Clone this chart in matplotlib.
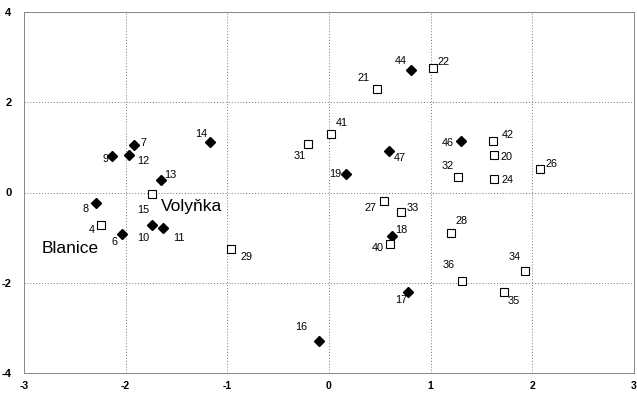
import matplotlib
matplotlib.use("Agg")
import matplotlib.pyplot as plt

plt.rcParams['font.family'] = ['Liberation Sans', 'DejaVu Sans']

# filled diamonds
d_ids = ["7", "12", "9", "14", "13", "44", "47", "19", "46", "8", "6", "10", "11", "16", "18", "17"]
d_x = [-1.92, -1.97, -2.13, -1.17, -1.65, 0.81, 0.59, 0.17, 1.30, -2.29, -2.04, -1.74, -1.63, -0.10, 0.62, 0.78]
d_y = [1.06, 0.83, 0.80, 1.11, 0.27, 2.71, 0.91, 0.41, 1.14, -0.24, -0.91, -0.72, -0.79, -3.29, -0.97, -2.21]

# open squares
s_ids = ["31", "22", "21", "41", "42", "20", "32", "24", "26", "4", "15", "29", "27", "33", "40", "28", "34", "36", "35"]
s_x = [-0.21, 1.02, 0.47, 0.02, 1.61, 1.62, 1.27, 1.62, 2.08, -2.24, -1.74, -0.96, 0.54, 0.71, 0.60, 1.20, 1.93, 1.31, 1.72]
s_y = [1.08, 2.75, 2.29, 1.30, 1.14, 0.83, 0.34, 0.30, 0.51, -0.71, -0.04, -1.26, -0.19, -0.44, -1.15, -0.89, -1.73, -1.97, -2.21]

group_names = ["Blanice", "Volyňka"]
group_x = [-2.55, -1.35]
group_y = [-1.25, -0.30]

x_ticks = [-3, -2, -1, 0, 1, 2, 3]
y_ticks = [-4, -2, 0, 2, 4]

# label offsets in pixels (dx, dy)
offsets = {
    "7": (10, 2), "12": (15, -6), "9": (-7, -3), "14": (-9, 8), "13": (9, 5),
    "31": (-8, -12), "44": (-11, 9), "22": (11, 6), "21": (-13, 11), "41": (11, 11),
    "47": (11, -7), "19": (-11, 0), "46": (-13, -2), "42": (15, 6), "20": (13, -2),
    "32": (-10, 11), "24": (14, -1), "26": (11, 5), "8": (-11, -6), "4": (-10, -5),
    "6": (-7, -8), "10": (-9, -13), "11": (16, -10), "15": (-9, -16), "29": (15, -8),
    "16": (-18, 14), "27": (-13, -7), "33": (12, 4), "18": (9, 6), "40": (-12, -4),
    "28": (11, 12), "34": (-11, 14), "36": (-14, 16), "35": (10, -9), "17": (-7, -8),
}

fig = plt.figure(figsize=(6.37, 3.94), dpi=100)
ax = fig.add_axes([24 / 637, 1 - 373 / 394, 610 / 637, 361 / 394])
ax.set_xlim(-3, 3)
ax.set_ylim(-4, 4)

for v in [-2, -1, 0, 1, 2]:
    ax.axvline(v, color='#777777', lw=0.7, ls=(0, (1, 2)), zorder=0)
for v in [-2, 0, 2]:
    ax.axhline(v, color='#777777', lw=0.7, ls=(0, (1, 2)), zorder=0)

ax.plot(d_x, d_y, ls='none', marker='D', ms=5, mfc='black', mec='black', zorder=3)
ax.plot(s_x, s_y, ls='none', marker='s', ms=6, mfc='white', mec='black', mew=0.8, zorder=3)

for ids, xs, ys in [(d_ids, d_x, d_y), (s_ids, s_x, s_y)]:
    for i, x, y in zip(ids, xs, ys):
        dx, dy = offsets[i]
        ax.annotate(i, (x, y), xytext=(dx, dy), textcoords='offset pixels',
                    ha='center', va='center', fontsize=7.8)

for n, x, y in zip(group_names, group_x, group_y):
    ax.text(x, y, n, fontsize=12.5, ha='center', va='center')

ax.set_xticks(x_ticks)
ax.set_yticks(y_ticks)
ax.set_xticklabels([str(t) for t in x_ticks], fontsize=7.5, fontweight='bold')
ax.set_yticklabels([str(t) for t in y_ticks], fontsize=8, fontweight='bold')
ax.tick_params(axis='x', length=0, pad=6)
ax.tick_params(axis='y', length=0, pad=9)
for sp in ax.spines.values():
    sp.set_color('#888888')
    sp.set_linewidth(0.7)
    sp.set_linestyle((0, (2, 1)))

fig.savefig("out.png", dpi=100)
